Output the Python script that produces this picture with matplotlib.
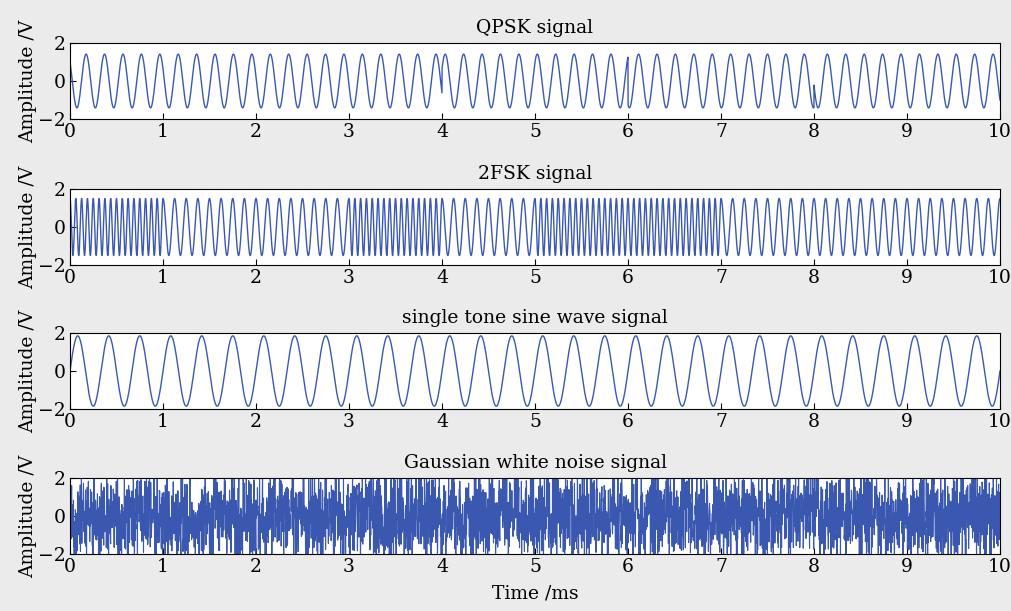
import numpy as np
import matplotlib
matplotlib.use("Agg")
import matplotlib.pyplot as plt

# ---- values ----
titles = ["QPSK signal", "2FSK signal", "single tone sine wave signal", "Gaussian white noise signal"]
x_ticks = [0, 1, 2, 3, 4, 5, 6, 7, 8, 9, 10]
y_ticks = [-2, 0, 2]

# QPSK: carrier (kHz), amplitude, symbol length (ms), symbol phases (rad)
qpsk_fc = 5.05
qpsk_amp = 1.414
qpsk_symbol_ms = 2.0
qpsk_phases = [np.pi / 4, np.pi / 4, 5 * np.pi / 4, np.pi / 4, 7 * np.pi / 4]

# 2FSK: bit stream (1 ms per bit), mark / space frequencies (kHz), amplitude
fsk_bits = [1, 0, 0, 1, 0, 1, 1, 0, 0, 0]
fsk_f1 = 16.0
fsk_f0 = 8.0
fsk_amp = 1.5
fsk_bit_ms = 1.0

# single tone
tone_f = 3.0
tone_amp = 1.85

# Gaussian white noise
noise_std = 1.2
noise_samples = 4000
noise_seed = 7

# ---- build waveforms ----
t = np.linspace(0, 10, 20001)
sym_idx = np.minimum((t // qpsk_symbol_ms).astype(int), len(qpsk_phases) - 1)
qpsk = qpsk_amp * np.cos(2 * np.pi * qpsk_fc * t + np.array(qpsk_phases)[sym_idx])

bit_idx = np.minimum((t // fsk_bit_ms).astype(int), len(fsk_bits) - 1)
freqs = np.where(np.array(fsk_bits)[bit_idx] == 1, fsk_f1, fsk_f0)
fsk = fsk_amp * np.cos(2 * np.pi * freqs * t)

tone = tone_amp * np.sin(2 * np.pi * tone_f * t)

tn = np.linspace(0, 10, noise_samples)
noise = np.random.default_rng(noise_seed).normal(0, noise_std, noise_samples)

series = [(t, qpsk), (t, fsk), (t, tone), (tn, noise)]

# ---- draw ----
plt.rcParams['font.family'] = ['DejaVu Serif']
fig = plt.figure(figsize=(10.12, 6.11), dpi=100, facecolor='#ebebeb')
W, H = 1012, 611
tops = [43, 189, 333, 478]
ax_h = 76
line_color = '#3a58b0'

for i, (x, y) in enumerate(series):
    top = tops[i]
    ax = fig.add_axes([70 / W, 1 - (top + ax_h) / H, 930 / W, ax_h / H])
    ax.plot(x, y, color=line_color, lw=1.0 if i < 3 else 0.8)
    ax.set_xlim(0, 10)
    ax.set_ylim(-2, 2)
    ax.set_xticks(x_ticks)
    ax.set_yticks(y_ticks)
    ax.set_yticklabels(['\u22122', '0', '2'])
    ax.tick_params(direction='in', length=4, labelsize=13.5, pad=3, width=0.8)
    ax.set_title(titles[i], fontsize=13.5, pad=7)
    ax.set_ylabel('Amplitude /V', fontsize=13.5, labelpad=1)
    for s in ax.spines.values():
        s.set_linewidth(0.8)
    if i == 3:
        ax.set_xlabel('Time /ms', fontsize=13.5, labelpad=6)

fig.savefig('out.png', dpi=100, facecolor=fig.get_facecolor())
